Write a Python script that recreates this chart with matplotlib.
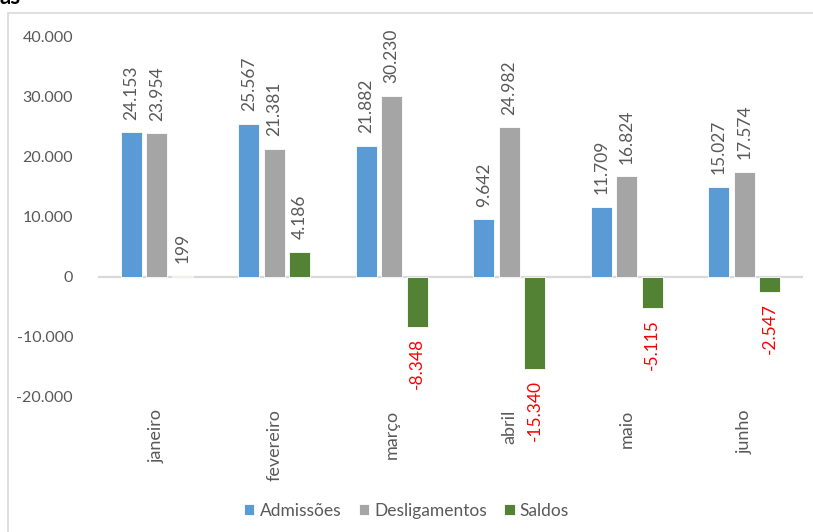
import matplotlib
matplotlib.use("Agg")
import matplotlib.pyplot as plt
import numpy as np
from matplotlib.patches import Rectangle

# ----------------------------------------------------------------------------------------------------------------------
#  DATA
# ----------------------------------------------------------------------------------------------------------------------
months        = ['janeiro', 'fevereiro', 'março', 'abril', 'maio', 'junho']
admissoes     = [24153, 25567, 21882, 9642, 11709, 15027]
desligamentos = [23954, 21381, 30230, 24982, 16824, 17574]
saldos        = [199, 4186, -8348, -15340, -5115, -2547]
series_names  = ['Admissões', 'Desligamentos', 'Saldos']
y_ticks       = [-20000, -10000, 0, 10000, 20000, 30000, 40000]

# ----------------------------------------------------------------------------------------------------------------------
#  STYLE
# ----------------------------------------------------------------------------------------------------------------------
plt.rcParams['font.family'] = ['Lato', 'DejaVu Sans']
colors     = ['#5B9BD5', '#A5A5A5', '#548235']
text_gray  = '#595959'
bar_width  = 0.175
offsets    = [-0.217, 0.0, 0.217]


def fmt(v):
    return f"{v:,}".replace(",", ".")


fig = plt.figure(figsize=(8.13, 5.32), dpi=100)
ax  = fig.add_axes([98/813, 1 - 397/532, 705/813, 360/532])

x = np.arange(len(months))
handles = []
for s_i, values in enumerate([admissoes, desligamentos, saldos]):
    bars = ax.bar(x + offsets[s_i], values, width=bar_width, color=colors[s_i],
                  edgecolor='white', linewidth=0.6, label=series_names[s_i], zorder=2)
    handles.append(bars)
    for xi, v in zip(x + offsets[s_i], values):
        if v >= 0:
            ax.annotate(fmt(v), (xi, v), xytext=(0, 9), textcoords='offset points',
                        rotation=90, ha='center', va='bottom', fontsize=12.5, color=text_gray)
        else:
            ax.annotate(fmt(v), (xi, v), xytext=(0, -8), textcoords='offset points',
                        rotation=90, ha='center', va='top', fontsize=12.5, color='#FF0000')

ax.set_xlim(-0.5, len(months) - 0.5)
ax.set_ylim(-20000, 40000)
ax.set_yticks(y_ticks)
ax.set_yticklabels([fmt(t) for t in y_ticks], color=text_gray, fontsize=11.5)
ax.tick_params(axis='y', length=0, pad=18)
ax.set_xticks([])
for sp in ax.spines.values():
    sp.set_visible(False)
ax.axhline(0, color='#D9D9D9', linewidth=1.6, zorder=1)

# category labels below plot area
for xi, m in zip(x, months):
    ax.annotate(m, (xi, -20000), xytext=(0, -9), textcoords='offset points',
                rotation=90, ha='center', va='top', fontsize=13, color=text_gray)

leg = fig.legend(handles=handles, loc='center', bbox_to_anchor=(0.5, 1 - 511/532), ncol=3,
                 frameon=False, fontsize=12.5, handlelength=0.6, handleheight=0.6,
                 handletextpad=0.3, columnspacing=1.0)
for t in leg.get_texts():
    t.set_color(text_gray)

# chart area border
fig.patches.append(Rectangle((8/813, -0.05), 1.0, 1.05 - 13/532, transform=fig.transFigure,
                             fill=False, edgecolor='#D9D9D9', linewidth=1.2))

# cropped title at top
fig.text(0.0, 1 - 8/532, 'as', ha='left', va='bottom', fontsize=16, fontweight='bold', color='black')

fig.savefig('out.png', dpi=100)
